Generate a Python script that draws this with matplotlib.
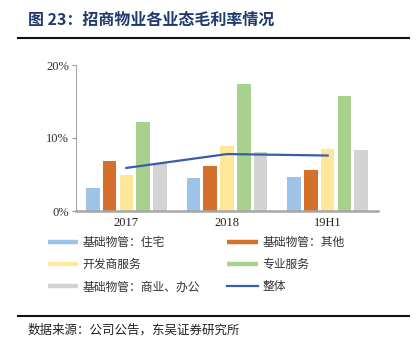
import matplotlib
matplotlib.use("Agg")
import matplotlib.pyplot as plt
import numpy as np
from matplotlib.lines import Line2D

categories = ["2017", "2018", "19H1"]
series_names = ["基础物管：住宅", "基础物管：其他", "开发商服务", "专业服务", "基础物管：商业、办公"]
res = [3.1, 4.5, 4.6]
other = [6.9, 6.1, 5.6]
dev = [4.9, 8.9, 8.45]
pro = [12.2, 17.4, 15.8]
comm = [6.6, 8.1, 8.35]
overall_name = "整体"
overall = [5.9, 7.8, 7.6]
yticks = [0, 10, 20]
ytick_labels = ["0%", "10%", "20%"]

colors = ["#9DC3E6", "#D4702C", "#FFE699", "#A9D18E", "#D3D3D3"]
line_color = "#3A5DA8"

W, H = 417, 353
fig = plt.figure(figsize=(W / 100, H / 100), dpi=100)
cjk = ["Noto Sans CJK SC", "DejaVu Sans"]
serif = ["Liberation Serif", "DejaVu Serif"]

def fx(px):
    return px / W

def fy(py):
    return 1 - py / H

ax = fig.add_axes([fx(76), fy(211), fx(378) - fx(76), fy(65) - fy(211)])
x = np.arange(len(categories))
slot = 0.166
bw = 0.135
all_series = [res, other, dev, pro, comm]
for i, (vals, c) in enumerate(zip(all_series, colors)):
    ax.bar(x + (i - 2) * slot, vals, width=bw, color=c, zorder=2)
ax.plot(x, overall, color=line_color, lw=1.6, zorder=3)

ax.set_xlim(-0.5, 2.5)
ax.set_ylim(0, 20)
ax.set_yticks(yticks)
ax.set_yticklabels(ytick_labels, fontfamily=serif, fontsize=9, color="#333333")
ax.set_xticks(x)
ax.set_xticklabels(categories, fontfamily=serif, fontsize=9, color="#222222")
ax.tick_params(axis="x", length=0, pad=4)
ax.tick_params(axis="y", length=3, width=0.8, color="#999999", pad=2)
for s in ["top", "right"]:
    ax.spines[s].set_visible(False)
ax.spines["left"].set_color("#A6A6A6")
ax.spines["left"].set_linewidth(0.8)
ax.spines["bottom"].set_color("#A6A6A6")
ax.spines["bottom"].set_linewidth(1.8)
ax.spines["bottom"].set_zorder(4)

# legend (column-major order for ncol=2)
h = [Line2D([], [], color=c, lw=3.2, solid_capstyle="butt") for c in colors]
hl = Line2D([], [], color=line_color, lw=1.6)
handles = [h[0], h[2], h[4], h[1], h[3], hl]
labels = [series_names[0], series_names[2], series_names[4], series_names[1], series_names[3], overall_name]
leg = fig.legend(handles, labels, ncol=2, loc="upper left",
                 bbox_to_anchor=(fx(48), fy(236)), frameon=False,
                 handlelength=2.55, handletextpad=0.4, columnspacing=2.3,
                 labelspacing=0.78, borderpad=0, borderaxespad=0,
                 prop={"family": cjk, "size": 8.5})
for t in leg.get_texts():
    t.set_color("#333333")

# title and rules
fig.text(fx(28), fy(20), "图 23：招商物业各业态毛利率情况", fontfamily=cjk,
         fontsize=11.5, fontweight="bold", color="#1F3A6E", va="center", ha="left")
fig.add_artist(Line2D([fx(18), fx(409)], [fy(37.5), fy(37.5)], color="#111111", lw=1.5))
fig.add_artist(Line2D([fx(18), fx(409)], [fy(316), fy(316)], color="#111111", lw=1.5))
fig.text(fx(28), fy(330), "数据来源：公司公告，东吴证券研究所", fontfamily=cjk,
         fontsize=9, color="#222222", va="center", ha="left")

fig.savefig("out.png", dpi=100)
